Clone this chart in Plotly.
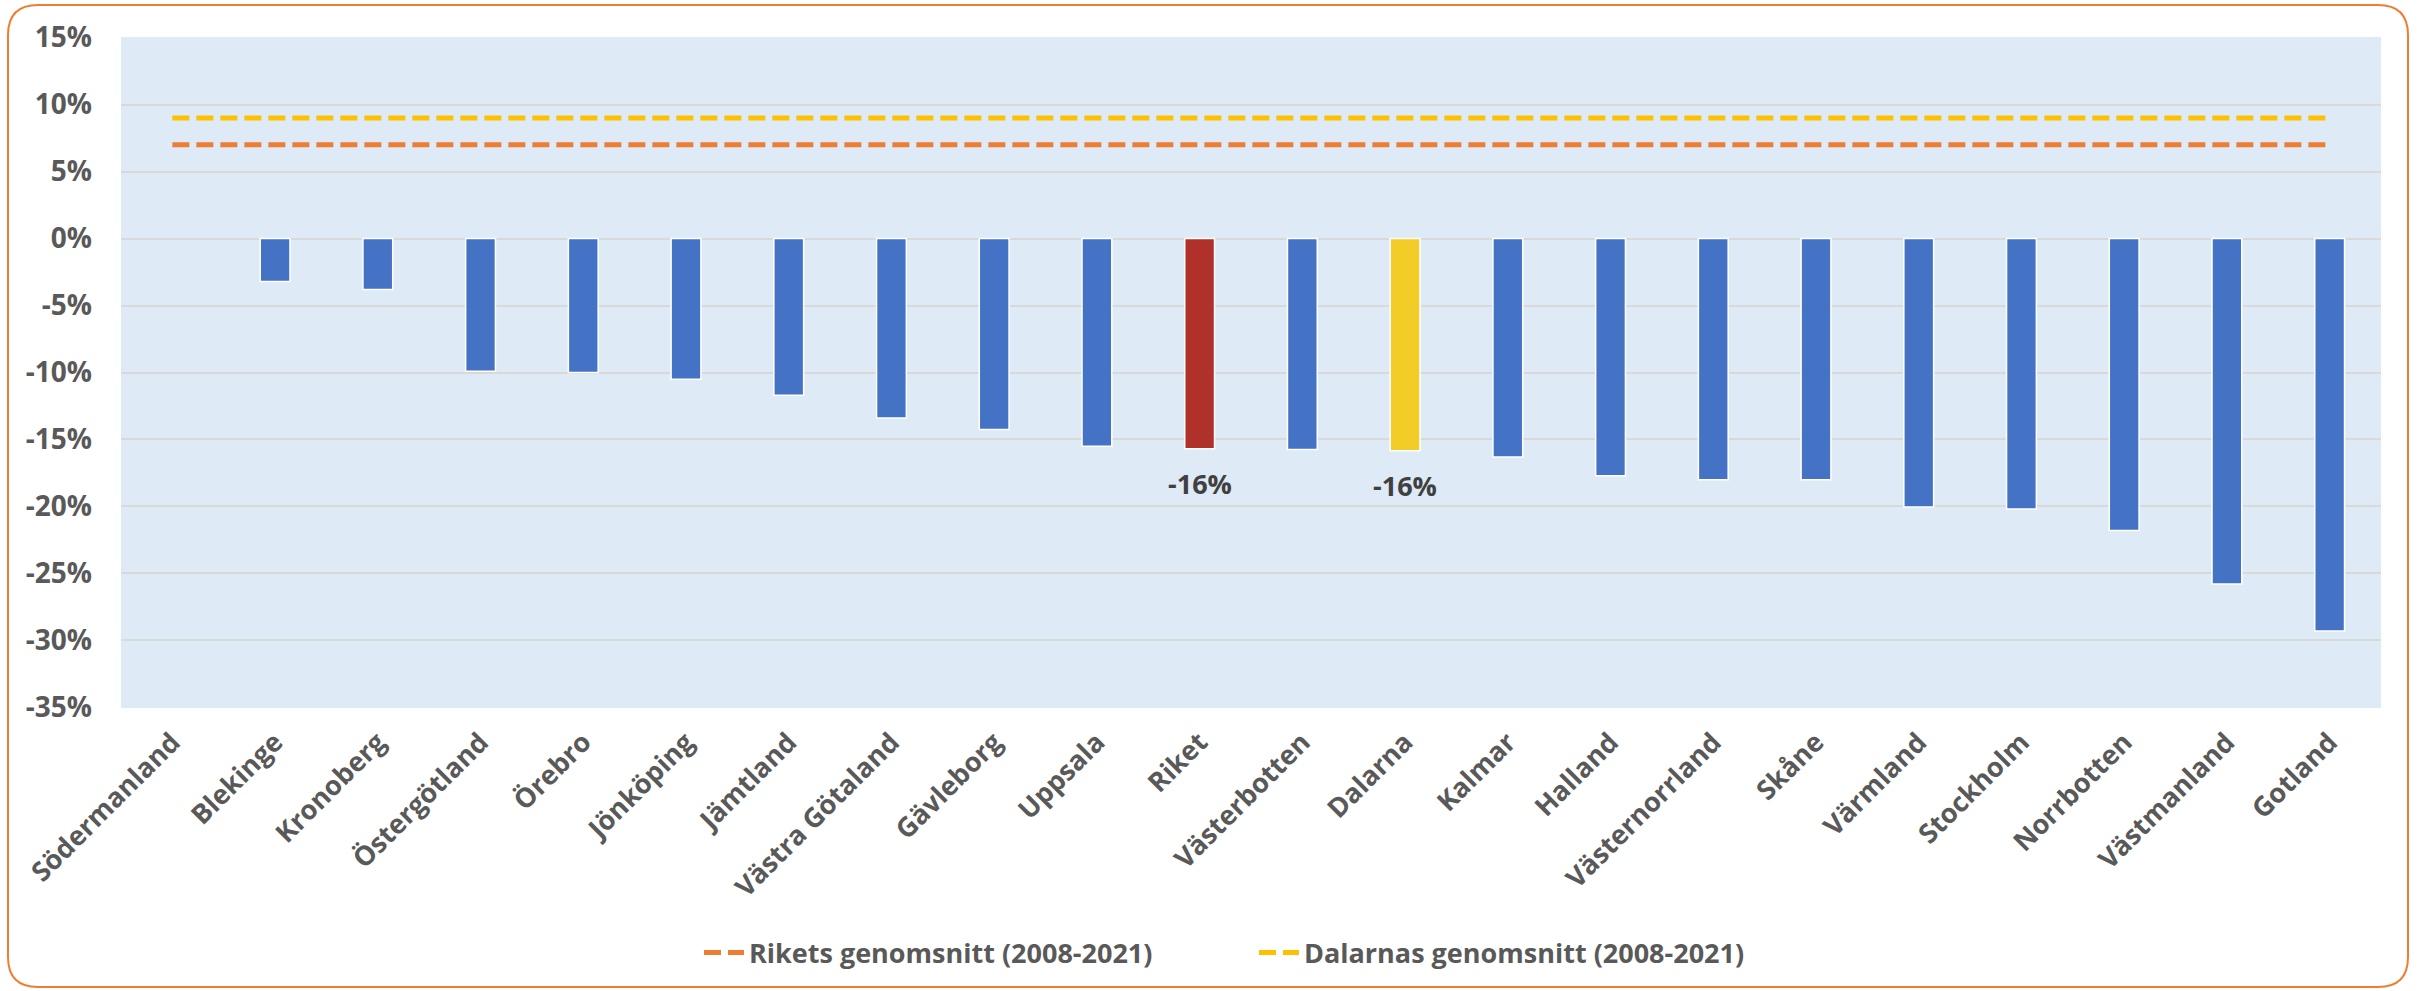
import plotly.graph_objects as go

# ---------------- data ----------------
categories = ["Södermanland", "Blekinge", "Kronoberg", "Östergötland", "Örebro",
              "Jönköping", "Jämtland", "Västra Götaland", "Gävleborg", "Uppsala",
              "Riket", "Västerbotten", "Dalarna", "Kalmar", "Halland",
              "Västernorrland", "Skåne", "Värmland", "Stockholm", "Norrbotten",
              "Västmanland", "Gotland"]
change_pct = [0.0, -3.2, -3.8, -9.9, -10.0, -10.5, -11.7, -13.4, -14.25, -15.5,
              -15.7, -15.75, -15.85, -16.3, -17.7, -18.0, -18.0, -20.05, -20.2,
              -21.8, -25.8, -29.3]
riket_avg = 7.0      # Rikets genomsnitt (2008-2021)
dalarna_avg = 9.0    # Dalarnas genomsnitt (2008-2021)
labelled = ["Riket", "Dalarna"]
highlight_colors = {"Riket": "#B0302A", "Dalarna": "#F2CD28"}
y_tick_vals = [15, 10, 5, 0, -5, -10, -15, -20, -25, -30, -35]
y_tick_text = ["15%", "10%", "5%", "0%", "-5%", "-10%", "-15%", "-20%", "-25%", "-30%", "-35%"]
legend_names = ["Rikets genomsnitt (2008-2021)", "Dalarnas genomsnitt (2008-2021)"]

# ---------------- styling ----------------
W, H = 2422, 991
L, R, T, B = 121, 2381, 37, 708
FONT = "Open Sans"
TXT = "#595959"
BLUE = "#4472C4"

bar_colors = [highlight_colors.get(c, BLUE) for c in categories]
bar_line_w = [0 if v == 0 else 1.5 for v in change_pct]

fig = go.Figure()
fig.add_trace(go.Bar(
    x=categories, y=change_pct,
    marker=dict(color=bar_colors, line=dict(color="white", width=bar_line_w)),
    showlegend=False, hoverinfo="x+y",
))
fig.add_trace(go.Scatter(
    x=categories, y=[riket_avg] * len(categories), mode="lines",
    name=legend_names[0], legend="legend",
    line=dict(color="#ED7D31", width=5, dash="17px,7px"),
))
fig.add_trace(go.Scatter(
    x=categories, y=[dalarna_avg] * len(categories), mode="lines",
    name=legend_names[1], legend="legend2",
    line=dict(color="#FFC000", width=5, dash="17px,7px"),
))

# data labels
for c, v in zip(categories, change_pct):
    if c in labelled:
        fig.add_annotation(x=c, y=v, text=f"{round(v)}%", showarrow=False,
                           yanchor="top", yshift=-14,
                           font=dict(family=FONT, size=27, color="#404040", weight="bold"))

# rounded orange border (pixel -> paper)
def px(xp):
    return (xp - L) / (R - L)

def py(yp):
    return (B - yp) / (B - T)

x0, x1, y0, y1, r = 8, 2408, 5, 987, 30
path = (f"M {px(x0 + r)},{py(y0)} L {px(x1 - r)},{py(y0)} "
        f"Q {px(x1)},{py(y0)} {px(x1)},{py(y0 + r)} "
        f"L {px(x1)},{py(y1 - r)} Q {px(x1)},{py(y1)} {px(x1 - r)},{py(y1)} "
        f"L {px(x0 + r)},{py(y1)} Q {px(x0)},{py(y1)} {px(x0)},{py(y1 - r)} "
        f"L {px(x0)},{py(y0 + r)} Q {px(x0)},{py(y0)} {px(x0 + r)},{py(y0)} Z")
fig.add_shape(type="path", xref="paper", yref="paper", path=path,
              line=dict(color="#ED7D31", width=2), fillcolor="rgba(0,0,0,0)")

legend_font = dict(family=FONT, size=27, color=TXT, weight="bold")
fig.update_layout(
    width=W, height=H,
    margin=dict(l=L, r=W - R, t=T, b=H - B, pad=0, autoexpand=False),
    paper_bgcolor="white",
    plot_bgcolor="#DEEAF6",
    bargap=0.71,
    font=dict(family=FONT, size=27, color=TXT, weight="bold"),
    legend=dict(orientation="h", x=px(699), xanchor="left", y=py(953), yanchor="middle",
                font=legend_font, itemwidth=40, bgcolor="rgba(0,0,0,0)"),
    legend2=dict(orientation="h", x=px(1254), xanchor="left", y=py(953), yanchor="middle",
                 font=legend_font, itemwidth=40, bgcolor="rgba(0,0,0,0)"),
    xaxis=dict(tickangle=-45, showgrid=False, showline=False, ticks="",
               automargin=False,
               tickfont=dict(family=FONT, size=27, color=TXT, weight="bold"),
               ticklabelstandoff=12),
    yaxis=dict(range=[-35.05, 15.05], tickvals=y_tick_vals, ticktext=y_tick_text,
               showgrid=True, gridcolor="#D9D9D9", gridwidth=2,
               zeroline=False, showline=False, ticks="", automargin=False,
               tickfont=dict(family=FONT, size=28, color=TXT, weight="bold"),
               ticklabelstandoff=28),
)

fig.write_html("out.html", config={"displayModeBar": False},
               post_script="document.body.style.margin='0';document.body.style.overflow='hidden';")
